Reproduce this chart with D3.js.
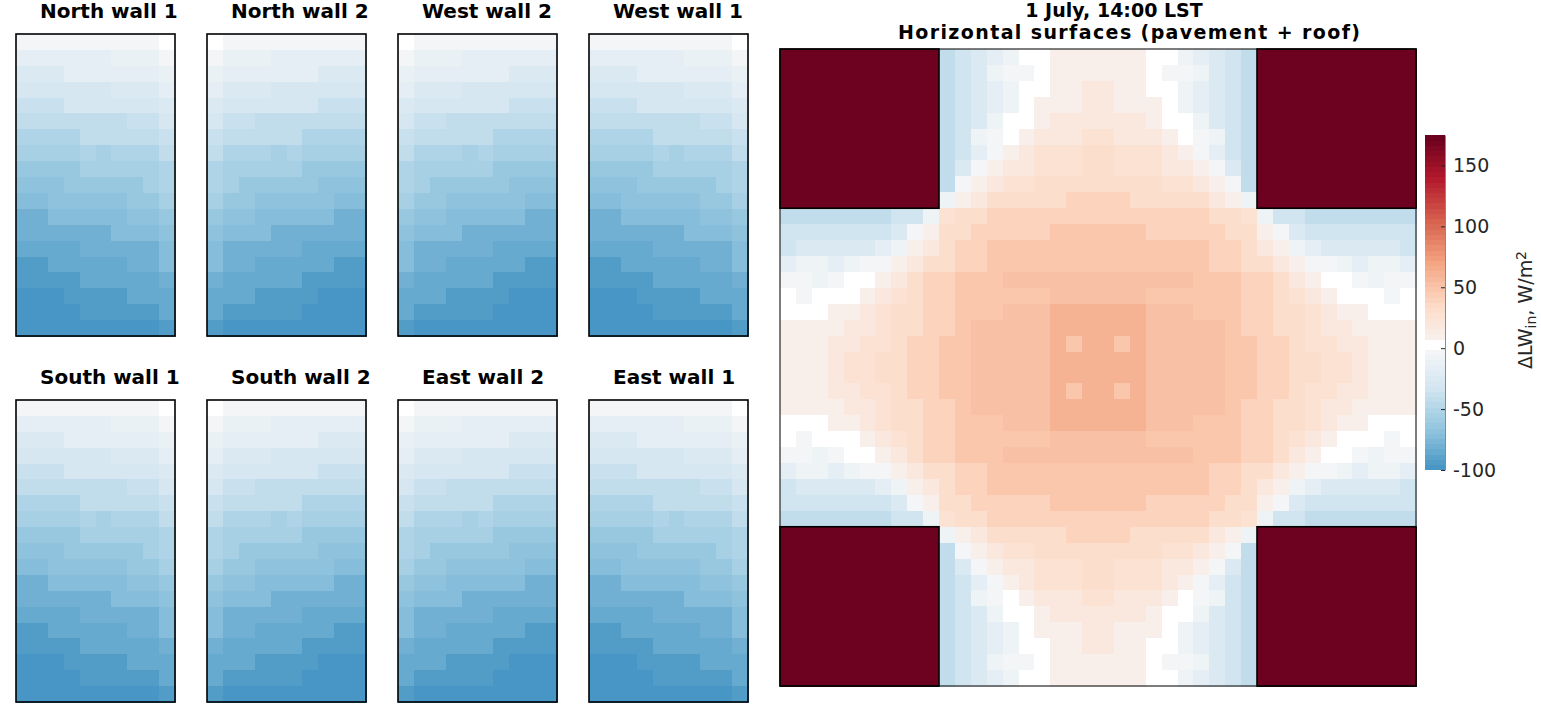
<!DOCTYPE html>
<html>
<head>
<meta charset="utf-8">
<script src="https://cdn.jsdelivr.net/npm/d3@7"></script>
<style>
  body { margin: 0; background: #fff; }
  text { font-family: "DejaVu Sans", sans-serif; }
</style>
</head>
<body>
<div id="chart"></div>
<script>
const width = 1541;
const height = 718;

// --- data ---
const wallNames = ["North wall 1", "North wall 2", "West wall 2", "West wall 1",
                   "South wall 1", "South wall 2", "East wall 2", "East wall 1"];

// wall facets, 19 rows (top to bottom) x 10 columns, W/m2
const wallGridA = [
    [-4,-4,-4,-4,-4,-4,-4,-4,-4,2],
    [-17,-17,-17,-17,-17,-17,-10,-10,-10,-4],
    [-23,-23,-23,-17,-17,-17,-17,-17,-17,-10],
    [-30,-30,-30,-30,-30,-30,-23,-23,-23,-17],
    [-36,-36,-36,-30,-30,-30,-30,-30,-30,-23],
    [-42,-42,-42,-42,-42,-42,-42,-36,-36,-30],
    [-49,-49,-49,-49,-42,-42,-42,-42,-42,-36],
    [-55,-55,-55,-55,-49,-55,-49,-49,-49,-42],
    [-62,-62,-62,-62,-55,-55,-55,-55,-55,-49],
    [-68,-68,-68,-62,-62,-62,-62,-62,-55,-49],
    [-74,-74,-68,-68,-68,-68,-68,-62,-62,-55],
    [-81,-81,-74,-74,-74,-74,-74,-68,-68,-62],
    [-81,-81,-81,-81,-81,-81,-74,-74,-74,-68],
    [-87,-87,-87,-87,-81,-81,-81,-81,-81,-74],
    [-93,-93,-87,-87,-87,-87,-87,-81,-81,-74],
    [-93,-93,-93,-93,-87,-87,-87,-87,-87,-81],
    [-98,-98,-98,-93,-93,-93,-93,-87,-87,-87],
    [-98,-98,-98,-98,-93,-93,-93,-93,-93,-87],
    [-98,-98,-98,-98,-98,-98,-98,-98,-98,-93]
];

const wallGridB = [
    [2,-4,-4,-4,-4,-4,-4,-4,-4,-4],
    [-4,-10,-10,-10,-17,-17,-17,-17,-17,-17],
    [-10,-17,-17,-17,-17,-17,-17,-23,-23,-23],
    [-17,-23,-23,-23,-30,-30,-30,-30,-30,-30],
    [-23,-30,-30,-30,-30,-30,-30,-36,-36,-36],
    [-30,-36,-36,-42,-42,-42,-42,-42,-42,-42],
    [-36,-42,-42,-42,-42,-42,-49,-49,-49,-49],
    [-42,-49,-49,-49,-55,-49,-55,-55,-55,-55],
    [-49,-55,-55,-55,-55,-55,-62,-62,-62,-62],
    [-49,-55,-62,-62,-62,-62,-62,-68,-68,-68],
    [-55,-62,-62,-68,-68,-68,-68,-68,-74,-74],
    [-62,-68,-68,-74,-74,-74,-74,-74,-81,-81],
    [-68,-74,-74,-74,-81,-81,-81,-81,-81,-81],
    [-74,-81,-81,-81,-81,-81,-87,-87,-87,-87],
    [-74,-81,-81,-87,-87,-87,-87,-87,-93,-93],
    [-81,-87,-87,-87,-87,-87,-93,-93,-93,-93],
    [-87,-87,-87,-93,-93,-93,-93,-98,-98,-98],
    [-87,-93,-93,-93,-93,-93,-98,-98,-98,-98],
    [-93,-98,-98,-98,-98,-98,-98,-98,-98,-98]
];

const wallGrids = [wallGridA, wallGridB, wallGridB, wallGridA,
                   wallGridA, wallGridB, wallGridB, wallGridA];

// horizontal surfaces, 40 x 40 cells (roof cells are off-scale, > 175)
const horizontalGrid = [
    [200,200,200,200,200,200,200,200,200,200,-42,-33,-24,-16,-8,3,3,10,10,10,10,10,10,3,3,-8,-16,-24,-33,-42,200,200,200,200,200,200,200,200,200,200],
    [200,200,200,200,200,200,200,200,200,200,-42,-33,-24,-8,-3,-3,3,10,10,10,10,10,10,3,-3,-3,-8,-24,-33,-42,200,200,200,200,200,200,200,200,200,200],
    [200,200,200,200,200,200,200,200,200,200,-42,-33,-24,-16,-8,3,3,10,10,17,17,10,10,3,3,-8,-16,-24,-33,-42,200,200,200,200,200,200,200,200,200,200],
    [200,200,200,200,200,200,200,200,200,200,-42,-33,-24,-16,-8,3,10,10,10,17,17,10,10,10,3,-8,-16,-24,-33,-42,200,200,200,200,200,200,200,200,200,200],
    [200,200,200,200,200,200,200,200,200,200,-42,-33,-24,-8,3,3,10,17,17,17,17,17,17,10,3,3,-8,-24,-33,-42,200,200,200,200,200,200,200,200,200,200],
    [200,200,200,200,200,200,200,200,200,200,-42,-33,-8,-3,3,10,17,17,17,25,25,17,17,17,10,3,-3,-8,-33,-42,200,200,200,200,200,200,200,200,200,200],
    [200,200,200,200,200,200,200,200,200,200,-42,-33,-16,-3,10,17,25,25,25,33,33,25,25,25,17,10,-3,-16,-33,-42,200,200,200,200,200,200,200,200,200,200],
    [200,200,200,200,200,200,200,200,200,200,-42,-24,-3,10,17,17,25,25,25,33,33,25,25,25,17,17,10,-3,-24,-42,200,200,200,200,200,200,200,200,200,200],
    [200,200,200,200,200,200,200,200,200,200,-42,-3,10,17,25,25,33,33,33,33,33,33,33,33,25,25,17,10,-3,-42,200,200,200,200,200,200,200,200,200,200],
    [200,200,200,200,200,200,200,200,200,200,-8,10,17,33,33,33,33,33,40,40,40,40,33,33,33,33,33,17,10,-8,200,200,200,200,200,200,200,200,200,200],
    [-42,-42,-42,-42,-42,-42,-42,-33,-33,-8,25,33,33,40,40,40,40,40,40,40,40,40,40,40,40,40,40,33,33,25,-8,-33,-33,-42,-42,-42,-42,-42,-42,-42],
    [-33,-33,-33,-33,-33,-33,-33,-24,-3,10,33,33,40,40,40,40,40,47,47,47,47,47,47,40,40,40,40,40,33,33,10,-3,-24,-33,-33,-33,-33,-33,-33,-33],
    [-33,-24,-24,-24,-24,-24,-16,-8,10,17,33,40,40,47,47,47,47,47,47,47,47,47,47,47,47,47,47,40,40,33,17,10,-8,-16,-24,-24,-24,-24,-24,-33],
    [-16,-8,-8,-16,-8,-3,-3,10,17,33,33,40,40,47,47,47,47,47,47,47,47,47,47,47,47,47,47,40,40,33,33,17,10,-3,-3,-8,-16,-8,-8,-16],
    [-3,-3,-8,-3,3,3,10,17,33,40,40,47,47,47,54,54,54,54,54,54,54,54,54,54,54,54,47,47,47,40,40,33,17,10,3,3,-3,-8,-3,-3],
    [3,-3,3,3,3,10,17,25,33,40,40,47,47,47,47,47,47,54,54,54,54,54,54,47,47,47,47,47,47,40,40,33,25,17,10,3,3,3,-3,3],
    [3,3,3,10,10,17,25,33,33,40,40,47,47,47,54,54,54,60,60,60,60,60,60,54,54,54,47,47,47,40,40,33,33,25,17,10,10,3,3,3],
    [10,10,10,10,17,17,25,33,33,40,40,47,54,54,54,54,54,60,60,60,60,60,60,54,54,54,54,54,47,40,40,33,33,25,17,17,10,10,10,10],
    [10,10,10,17,17,25,25,33,40,40,47,47,54,54,54,54,54,60,47,60,60,47,60,54,54,54,54,54,47,47,40,40,33,25,25,17,17,10,10,10],
    [10,10,10,17,25,25,33,33,40,40,47,47,54,54,54,54,54,60,60,60,60,60,60,54,54,54,54,54,47,47,40,40,33,33,25,25,17,10,10,10],
    [10,10,10,17,25,25,33,33,40,40,47,47,54,54,54,54,54,60,60,60,60,60,60,54,54,54,54,54,47,47,40,40,33,33,25,25,17,10,10,10],
    [10,10,10,17,17,25,25,33,40,40,47,47,54,54,54,54,54,60,47,60,60,47,60,54,54,54,54,54,47,47,40,40,33,25,25,17,17,10,10,10],
    [10,10,10,10,17,17,25,33,33,40,40,47,54,54,54,54,54,60,60,60,60,60,60,54,54,54,54,54,47,40,40,33,33,25,17,17,10,10,10,10],
    [3,3,3,10,10,17,25,33,33,40,40,47,47,47,54,54,54,60,60,60,60,60,60,54,54,54,47,47,47,40,40,33,33,25,17,10,10,3,3,3],
    [3,-3,3,3,3,10,17,25,33,40,40,47,47,47,47,47,47,54,54,54,54,54,54,47,47,47,47,47,47,40,40,33,25,17,10,3,3,3,-3,3],
    [-3,-3,-8,-3,3,3,10,17,33,40,40,47,47,47,54,54,54,54,54,54,54,54,54,54,54,54,47,47,47,40,40,33,17,10,3,3,-3,-8,-3,-3],
    [-16,-8,-8,-16,-8,-3,-3,10,17,33,33,40,40,47,47,47,47,47,47,47,47,47,47,47,47,47,47,40,40,33,33,17,10,-3,-3,-8,-16,-8,-8,-16],
    [-33,-24,-24,-24,-24,-24,-16,-8,10,17,33,40,40,47,47,47,47,47,47,47,47,47,47,47,47,47,47,40,40,33,17,10,-8,-16,-24,-24,-24,-24,-24,-33],
    [-33,-33,-33,-33,-33,-33,-33,-24,-3,10,33,33,40,40,40,40,40,47,47,47,47,47,47,40,40,40,40,40,33,33,10,-3,-24,-33,-33,-33,-33,-33,-33,-33],
    [-42,-42,-42,-42,-42,-42,-42,-33,-33,-8,25,33,33,40,40,40,40,40,40,40,40,40,40,40,40,40,40,33,33,25,-8,-33,-33,-42,-42,-42,-42,-42,-42,-42],
    [200,200,200,200,200,200,200,200,200,200,-8,10,17,33,33,33,33,33,40,40,40,40,33,33,33,33,33,17,10,-8,200,200,200,200,200,200,200,200,200,200],
    [200,200,200,200,200,200,200,200,200,200,-42,-3,10,17,25,25,33,33,33,33,33,33,33,33,25,25,17,10,-3,-42,200,200,200,200,200,200,200,200,200,200],
    [200,200,200,200,200,200,200,200,200,200,-42,-24,-3,10,17,17,25,25,25,33,33,25,25,25,17,17,10,-3,-24,-42,200,200,200,200,200,200,200,200,200,200],
    [200,200,200,200,200,200,200,200,200,200,-42,-33,-16,-3,10,17,25,25,25,33,33,25,25,25,17,10,-3,-16,-33,-42,200,200,200,200,200,200,200,200,200,200],
    [200,200,200,200,200,200,200,200,200,200,-42,-33,-8,-3,3,10,17,17,17,25,25,17,17,17,10,3,-3,-8,-33,-42,200,200,200,200,200,200,200,200,200,200],
    [200,200,200,200,200,200,200,200,200,200,-42,-33,-24,-8,3,3,10,17,17,17,17,17,17,10,3,3,-8,-24,-33,-42,200,200,200,200,200,200,200,200,200,200],
    [200,200,200,200,200,200,200,200,200,200,-42,-33,-24,-16,-8,3,10,10,10,17,17,10,10,10,3,-8,-16,-24,-33,-42,200,200,200,200,200,200,200,200,200,200],
    [200,200,200,200,200,200,200,200,200,200,-42,-33,-24,-16,-8,3,3,10,10,17,17,10,10,3,3,-8,-16,-24,-33,-42,200,200,200,200,200,200,200,200,200,200],
    [200,200,200,200,200,200,200,200,200,200,-42,-33,-24,-8,-3,-3,3,10,10,10,10,10,10,3,-3,-3,-8,-24,-33,-42,200,200,200,200,200,200,200,200,200,200],
    [200,200,200,200,200,200,200,200,200,200,-42,-33,-24,-16,-8,3,3,10,10,10,10,10,10,3,3,-8,-16,-24,-33,-42,200,200,200,200,200,200,200,200,200,200]
];

// roof blocks: [first row, first col], each 10 x 10 cells
const roofBlocks = [[0, 0], [0, 30], [30, 0], [30, 30]];
const roofSize = 10;

const colorTicks = [-100, -50, 0, 50, 100, 150];
const titleLines = ["1 July, 14:00 LST", "Horizontal surfaces (pavement + roof)"];

// --- colour map: RdBu stops, linear, 64 steps over the colour limits, white at zero ---
const cMin = -100, cMax = 175, nLevels = 64;
const levelWidth = (cMax - cMin) / nLevels;
const rdbu = d3.piecewise(d3.interpolateRgb, ["#67001f", "#b2182b", "#d6604d", "#f4a582", "#fddbc7",
                                              "#f7f7f7", "#d1e5f0", "#92c5de", "#4393c3", "#2166ac", "#053061"]);

function levelOf(v) {
    return Math.max(0, Math.min(nLevels - 1, Math.floor((v - cMin) / levelWidth)));
}
function levelColor(k) {
    const mid = cMin + (k + 0.5) * levelWidth;
    if (mid > -1.5 && mid < 7.5) return "#ffffff";
    // red half spans 0..175, blue half 0..-100
    const t = mid >= 0 ? 0.5 - mid / 350 : 0.5 - mid * 0.003;
    return rdbu(t);
}
const color = v => levelColor(levelOf(v));

// --- svg ---
const svg = d3.select("#chart")
    .append("svg")
    .attr("width", width)
    .attr("height", height)
    .style("display", "block");

svg.append("rect").attr("width", width).attr("height", height).attr("fill", "#fff");

// --- wall panels ---
const panelX = d3.scaleBand().domain(d3.range(4)).range([16, 748]).paddingInner(32 / 191);
const panelTop = [34, 400];
const panelH = 302;

const cellX = d3.scaleBand().domain(d3.range(10)).range([0, panelX.bandwidth()]);
const cellY = d3.scaleBand().domain(d3.range(19)).range([0, panelH]);

wallNames.forEach((name, i) => {
    const px = panelX(i % 4);
    const py = panelTop[Math.floor(i / 4)];
    const g = svg.append("g").attr("transform", `translate(${px},${py})`);

    const cells = [];
    wallGrids[i].forEach((row, r) => row.forEach((v, c) => cells.push({ r, c, v })));

    g.selectAll("rect.cell")
        .data(cells)
        .enter()
        .append("rect")
        .attr("class", "cell")
        .attr("x", d => cellX(d.c))
        .attr("y", d => cellY(d.r))
        .attr("width", cellX.bandwidth() + 0.5)
        .attr("height", cellY.bandwidth() + 0.5)
        .attr("fill", d => color(d.v))
        .attr("shape-rendering", "crispEdges");

    g.append("rect")
        .attr("width", panelX.bandwidth())
        .attr("height", panelH)
        .attr("fill", "none")
        .attr("stroke", "#000")
        .attr("stroke-width", 1.6);

    svg.append("text")
        .attr("x", px + 24)
        .attr("y", py - 16)
        .style("font-size", "20px")
        .style("font-weight", "bold")
        .attr("fill", "#000")
        .text(name);
});

// --- horizontal surfaces ---
const hx = d3.scaleBand().domain(d3.range(40)).range([780, 1416]);
const hy = d3.scaleBand().domain(d3.range(40)).range([49, 686]);

const hCells = [];
horizontalGrid.forEach((row, r) => row.forEach((v, c) => hCells.push({ r, c, v })));

svg.append("g")
    .selectAll("rect")
    .data(hCells)
    .enter()
    .append("rect")
    .attr("x", d => hx(d.c))
    .attr("y", d => hy(d.r))
    .attr("width", hx.bandwidth() + 0.5)
    .attr("height", hy.bandwidth() + 0.5)
    .attr("fill", d => color(d.v))
    .attr("shape-rendering", "crispEdges");

svg.append("rect")
    .attr("x", 780)
    .attr("y", 49)
    .attr("width", 636)
    .attr("height", 637)
    .attr("fill", "none")
    .attr("stroke", "#262626")
    .attr("stroke-width", 1.2);

svg.append("g")
    .selectAll("rect")
    .data(roofBlocks)
    .enter()
    .append("rect")
    .attr("x", d => hx(d[1]))
    .attr("y", d => hy(d[0]))
    .attr("width", hx.bandwidth() * roofSize)
    .attr("height", hy.bandwidth() * roofSize)
    .attr("fill", "none")
    .attr("stroke", "#000")
    .attr("stroke-width", 1.6);

svg.append("g")
    .selectAll("text")
    .data(titleLines)
    .enter()
    .append("text")
    .attr("x", (d, i) => i === 0 ? 1114 : 1129)
    .attr("y", (d, i) => 17 + i * 22)
    .attr("text-anchor", "middle")
    .attr("textLength", (d, i) => i === 0 ? null : 462)
    .attr("lengthAdjust", "spacing")
    .style("font-size", "19px")
    .style("font-weight", "bold")
    .attr("fill", "#000")
    .text(d => d);

// --- colour bar ---
const cbX = 1425, cbW = 20;
const cbScale = d3.scaleLinear().domain([cMin, cMax]).range([470, 135]);

svg.append("g")
    .selectAll("rect")
    .data(d3.range(nLevels))
    .enter()
    .append("rect")
    .attr("x", cbX)
    .attr("y", k => cbScale(cMin + (k + 1) * levelWidth))
    .attr("width", cbW)
    .attr("height", k => cbScale(cMin + k * levelWidth) - cbScale(cMin + (k + 1) * levelWidth) + 0.4)
    .attr("fill", k => levelColor(k))
    .attr("shape-rendering", "crispEdges");

const cbAxis = svg.append("g")
    .attr("transform", `translate(${cbX + cbW},0)`)
    .call(d3.axisRight(cbScale)
        .tickValues(colorTicks)
        .tickSizeInner(-4)
        .tickSizeOuter(0)
        .tickPadding(8)
        .tickFormat(d => String(d)));

cbAxis.select(".domain").attr("stroke", "#8a8a8a").attr("stroke-width", 1);
cbAxis.selectAll(".tick line").attr("stroke", "#262626");
cbAxis.selectAll(".tick text")
    .attr("fill", "#262626")
    .style("font-size", "19px")
    .style("font-family", "'DejaVu Sans', sans-serif");

const cbLabel = svg.append("text")
    .attr("transform", "translate(1532,310) rotate(-90)")
    .attr("text-anchor", "middle")
    .style("font-size", "19px")
    .attr("fill", "#262626");
cbLabel.append("tspan").text("\u0394LW");
cbLabel.append("tspan").attr("baseline-shift", "-25%").style("font-size", "14px").text("in");
cbLabel.append("tspan").text(", W/m");
cbLabel.append("tspan").attr("baseline-shift", "40%").style("font-size", "14px").text("2");
</script>
</body>
</html>
